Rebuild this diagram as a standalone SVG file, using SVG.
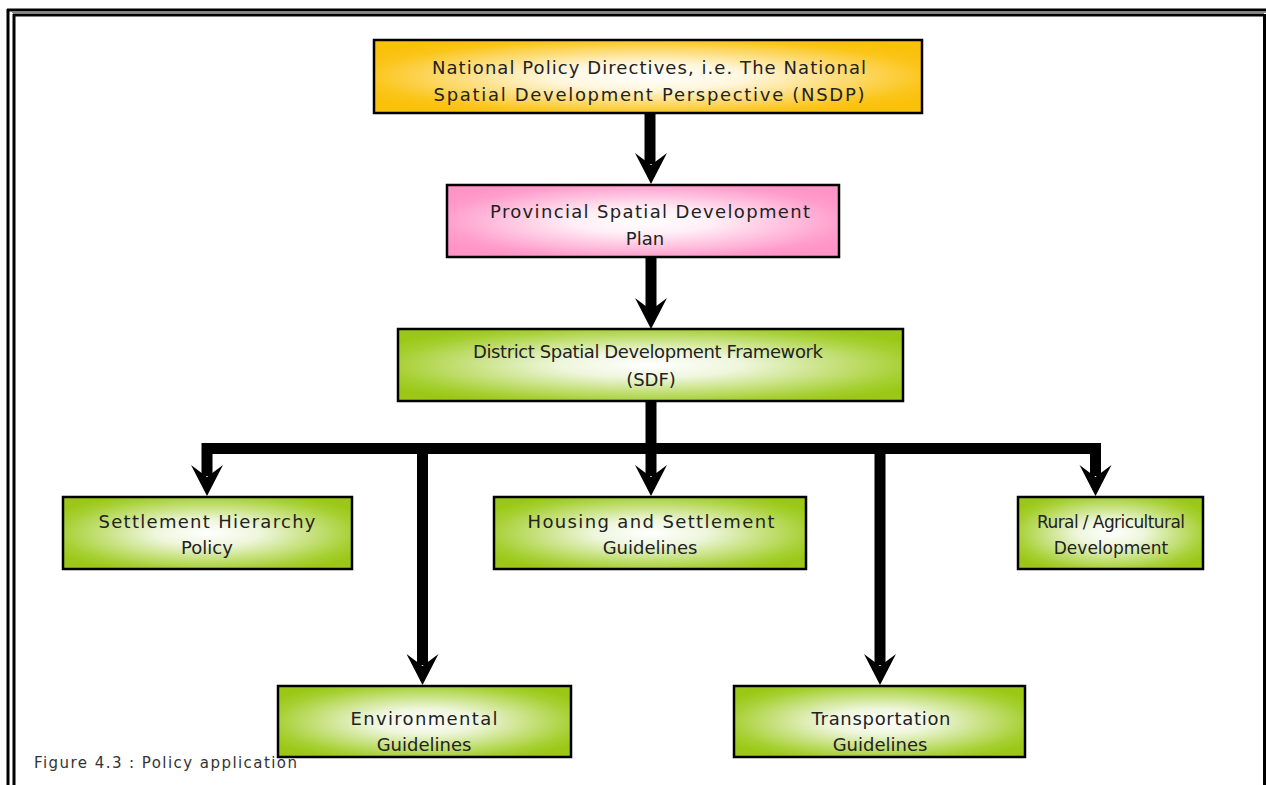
<svg xmlns="http://www.w3.org/2000/svg" width="1266" height="785" viewBox="0 0 1266 785">
<defs>
<style>
.box{stroke:#000;stroke-width:2.5}
.t{font-family:"URW Gothic","Century Gothic","DejaVu Sans",sans-serif;font-size:18px;fill:#222;text-anchor:middle}
.r{font-size:17px}
.cap{font-family:"URW Gothic","Century Gothic","DejaVu Sans",sans-serif;font-size:15px;fill:#333}
.stem{fill:none;stroke:#000;stroke-width:11;stroke-linejoin:miter}
.frame{fill:none;stroke:#000}
</style>
<radialGradient id="gy" cx="0.5" cy="0.5" r="0.6">
<stop offset="0" stop-color="#ffffff"/><stop offset="0.3" stop-color="#fff6dc"/><stop offset="0.85" stop-color="#fbc51a"/><stop offset="1" stop-color="#f9c10a"/>
</radialGradient>
<radialGradient id="gp" cx="0.5" cy="0.5" r="0.6">
<stop offset="0" stop-color="#ffffff"/><stop offset="0.3" stop-color="#ffeef6"/><stop offset="0.85" stop-color="#ff9dcc"/><stop offset="1" stop-color="#ff94c6"/>
</radialGradient>
<radialGradient id="gg" cx="0.5" cy="0.5" r="0.6">
<stop offset="0" stop-color="#ffffff"/><stop offset="0.3" stop-color="#eef6dc"/><stop offset="0.85" stop-color="#a6d032"/><stop offset="1" stop-color="#9bc816"/>
</radialGradient>
</defs>

<g id="frame">
<line class="frame" x1="7" y1="10" x2="1266" y2="10" stroke-width="3"/>
<line class="frame" x1="8" y1="9" x2="8" y2="785" stroke-width="3"/>
<line x1="12" y1="12.5" x2="1266" y2="12.5" stroke="#888" stroke-width="1"/>
<line class="frame" x1="13" y1="15" x2="1264" y2="15" stroke-width="3"/>
<line class="frame" x1="14" y1="14" x2="14" y2="785" stroke-width="3"/>
<line class="frame" x1="1264.5" y1="14" x2="1264.5" y2="785" stroke-width="3"/>
</g>

<g id="connectors">
<path class="stem" d="M650,113 V164"/>
<path d="M651,184 L635,153 L651,165 L667,153 Z"/>
<path class="stem" d="M651,258 V311"/>
<path d="M651,329 L635,298 L651,310 L667,298 Z"/>
<path class="stem" d="M651,401 V476"/>
<path d="M651,496 L635,465 L651,477 L667,465 Z"/>
<path class="stem" d="M207,476 V448.5 H1095.5 V476"/>
<path d="M207,496 L191,465 L207,477 L223,465 Z"/>
<path d="M1095.5,496 L1079.5,465 L1095.5,477 L1111.5,465 Z"/>
<path class="stem" d="M422.5,449 V665"/>
<path d="M422.5,685 L406.5,654 L422.5,666 L438.5,654 Z"/>
<path class="stem" d="M880,449 V665"/>
<path d="M880,685 L864,654 L880,666 L896,654 Z"/>
</g>

<g id="n-nsdp">
<rect class="box" x="374" y="40" width="548" height="73" fill="url(#gy)"/>
<text class="t" x="649" y="74" textLength="434" lengthAdjust="spacing">National Policy Directives, i.e. The National</text>
<text class="t" x="649" y="101" textLength="431" lengthAdjust="spacing">Spatial Development Perspective (NSDP)</text>
</g>

<g id="n-provincial">
<rect class="box" x="447" y="185" width="392" height="72" fill="url(#gp)"/>
<text class="t" x="650" y="218" textLength="320" lengthAdjust="spacing">Provincial Spatial Development</text>
<text class="t" x="645" y="245">Plan</text>
</g>

<g id="n-district">
<rect class="box" x="398" y="329" width="505" height="72" fill="url(#gg)"/>
<text class="t" x="648" y="358" textLength="350" lengthAdjust="spacing">District Spatial Development Framework</text>
<text class="t" x="651" y="386">(SDF)</text>
</g>

<g id="n-settlement">
<rect class="box" x="63" y="497" width="289" height="72" fill="url(#gg)"/>
<text class="t" x="207" y="528" textLength="217" lengthAdjust="spacing">Settlement Hierarchy</text>
<text class="t" x="207" y="554">Policy</text>
</g>

<g id="n-housing">
<rect class="box" x="494" y="497" width="312" height="72" fill="url(#gg)"/>
<text class="t" x="651" y="528" textLength="247" lengthAdjust="spacing">Housing and Settlement</text>
<text class="t" x="650" y="554">Guidelines</text>
</g>

<g id="n-rural">
<rect class="box" x="1018" y="497" width="185" height="72" fill="url(#gg)"/>
<text class="t r" x="1111" y="528" textLength="148" lengthAdjust="spacing">Rural / Agricultural</text>
<text class="t r" x="1111" y="554">Development</text>
</g>

<g id="n-environmental">
<rect class="box" x="278" y="686" width="293" height="71" fill="url(#gg)"/>
<text class="t" x="424" y="725" textLength="147" lengthAdjust="spacing">Environmental</text>
<text class="t" x="424" y="751">Guidelines</text>
</g>

<g id="n-transportation">
<rect class="box" x="734" y="686" width="291" height="71" fill="url(#gg)"/>
<text class="t" x="881" y="725" textLength="139" lengthAdjust="spacing">Transportation</text>
<text class="t" x="880" y="751">Guidelines</text>
</g>

<text class="cap" x="34" y="768" textLength="263" lengthAdjust="spacing">Figure 4.3 : Policy application</text>
</svg>
